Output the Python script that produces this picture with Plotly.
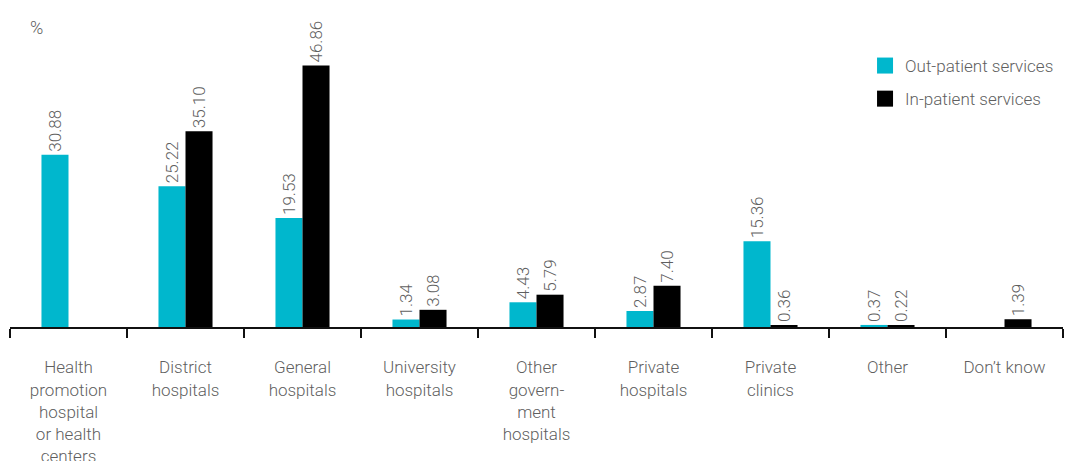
import plotly.graph_objects as go

# Categories (line breaks as printed under the axis)
categories = [
    "Health<br>promotion<br>hospital<br>or health<br>centers",
    "District<br>hospitals",
    "General<br>hospitals",
    "University<br>hospitals",
    "Other<br>govern-<br>ment<br>hospitals",
    "Private<br>hospitals",
    "Private<br>clinics",
    "Other",
    "Don’t know",
]

# Share of respondents (%) by type of facility used
outpatient = [30.88, 25.22, 19.53, 1.34, 4.43, 2.87, 15.36, 0.37, None]
inpatient = [None, 35.10, 46.86, 3.08, 5.79, 7.40, 0.36, 0.22, 1.39]

series_names = ["Out-patient services", "In-patient services"]
series_colors = ["#00B7CD", "#000000"]

FONT = "Roboto"
GREY = "#5f5f5f"

fig = go.Figure()

for name, vals, color in zip(series_names, [outpatient, inpatient], series_colors):
    fig.add_trace(go.Bar(
        x=categories,
        y=vals,
        name=name,
        marker=dict(color=color, line=dict(width=0)),
        texttemplate="%{y:.2f}",
        textposition="outside",
        textangle=-90,
        cliponaxis=False,
        constraintext="none",
        textfont=dict(family=FONT, size=17, color=GREY, weight=300),
        showlegend=False,
    ))

# Legend entries with larger square swatches
for i, (name, color) in enumerate(zip(series_names, series_colors)):
    fig.add_trace(go.Scatter(
        x=[None], y=[None],
        mode="markers",
        name=name,
        legendgroup=f"g{i}",
        marker=dict(symbol="square", size=16, color=color),
        showlegend=True,
    ))

fig.update_layout(
    width=1065,
    height=461,
    margin=dict(l=10, r=2, t=48, b=134, autoexpand=False),
    paper_bgcolor="white",
    plot_bgcolor="white",
    barmode="group",
    bargap=0.538,
    bargroupgap=0,
    font=dict(family=FONT, size=17, color=GREY, weight=300),
    legend=dict(
        x=0.812, xanchor="left",
        y=1.0, yanchor="top",
        font=dict(family=FONT, size=17, color=GREY, weight=300),
        tracegroupgap=8,
        bgcolor="rgba(0,0,0,0)",
    ),
    xaxis=dict(
        type="category",
        automargin=False,
        showline=True,
        linecolor="#111111",
        linewidth=2,
        ticks="outside",
        tickson="boundaries",
        ticklen=9,
        tickwidth=2,
        tickcolor="#111111",
        showgrid=False,
        ticklabelstandoff=24,
        tickfont=dict(family=FONT, size=17, color=GREY, weight=300),
        fixedrange=True,
    ),
    yaxis=dict(
        range=[0, 50],
        visible=False,
        showgrid=False,
        zeroline=False,
        fixedrange=True,
    ),
    annotations=[
        dict(
            text="%",
            xref="paper", yref="paper",
            x=0.017, y=1.072,
            xanchor="left", yanchor="middle",
            showarrow=False,
            font=dict(family=FONT, size=18, color=GREY, weight=300),
        )
    ],
)

fig.write_html("out.html")
